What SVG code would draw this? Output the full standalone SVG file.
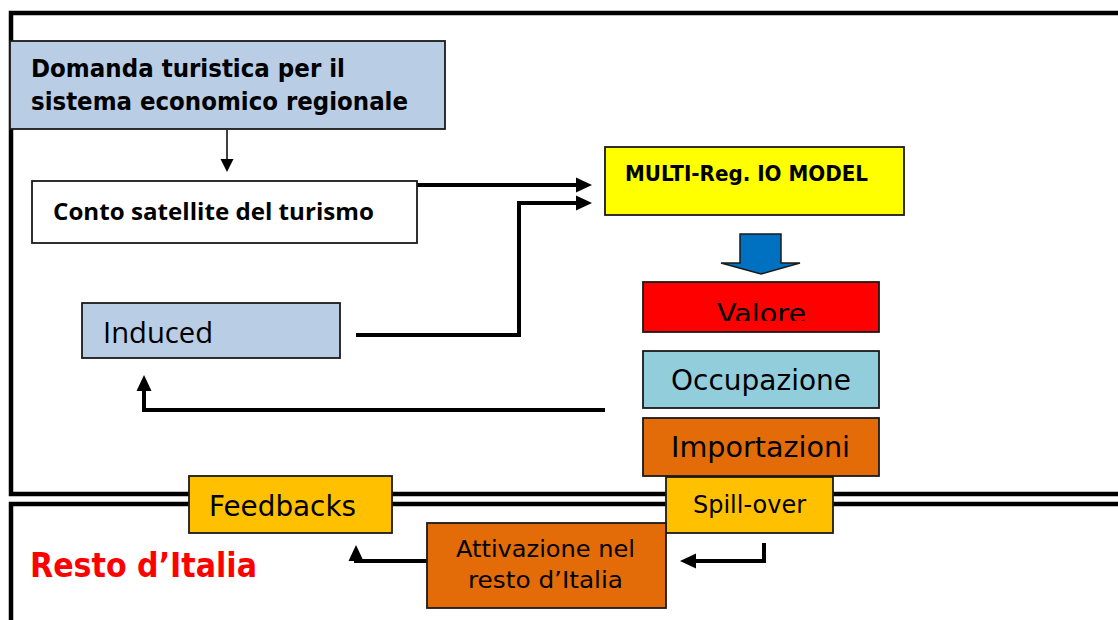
<svg xmlns="http://www.w3.org/2000/svg" width="1118" height="620" viewBox="0 0 1118 620">
  <style>
    .frame { fill: none; stroke: #000; stroke-width: 4.5; }
    .box { stroke: #1a1a1a; stroke-width: 1.8; }
    .conn { fill: none; stroke: #000; stroke-width: 4; }
    .thin { fill: none; stroke: #000; stroke-width: 1.5; }
    .tah { font-family: "DejaVu Sans", Verdana, sans-serif; fill: #000; }
    .cal { font-family: "Open Sans", "Noto Sans", sans-serif; fill: #000; }
    .b { font-weight: bold; }
  </style>
  <defs>
    <marker id="ah" markerUnits="userSpaceOnUse" markerWidth="18" markerHeight="16" refX="2" refY="8" orient="auto">
      <path d="M0,0.5 L16,8 L0,15.5 z" fill="#000"/>
    </marker>
    <marker id="ahs" markerUnits="userSpaceOnUse" markerWidth="14" markerHeight="14" refX="1" refY="6.5" orient="auto">
      <path d="M0,0 L13,6.5 L0,13 z" fill="#000"/>
    </marker>
    <clipPath id="clipValore">
      <rect x="643" y="282" width="236" height="39"/>
    </clipPath>
  </defs>

  <g id="frames">
    <path class="frame" d="M1118,13 H11 V494 H1118"/>
    <path class="frame" d="M1118,504 H11 V620"/>
  </g>

  <g id="connectors">
    <path class="thin" d="M227,130 V160" marker-end="url(#ahs)"/>
    <path class="conn" d="M417,185 H578" marker-end="url(#ah)"/>
    <path class="conn" d="M356,335 H519 V203 H578" marker-end="url(#ah)"/>
    <path class="conn" d="M605,410 H144 V389" marker-end="url(#ah)"/>
    <path class="conn" d="M764,543 V561 H694" marker-end="url(#ah)"/>
    <path class="conn" d="M442,561 H356 V559" marker-end="url(#ah)"/>
  </g>

  <g id="domanda">
    <rect class="box" x="10" y="41" width="435" height="88" fill="#b9cde5"/>
    <text class="tah b" x="31" y="77" font-size="25" textLength="314" lengthAdjust="spacingAndGlyphs">Domanda turistica per il</text>
    <text class="tah b" x="31" y="110" font-size="25" textLength="377" lengthAdjust="spacingAndGlyphs">sistema economico regionale</text>
  </g>

  <g id="conto">
    <rect class="box" x="32" y="181" width="385" height="62" fill="#ffffff"/>
    <text class="cal b" x="53" y="220" font-size="23" textLength="321" lengthAdjust="spacingAndGlyphs">Conto satellite del turismo</text>
  </g>

  <g id="multireg">
    <rect class="box" x="605" y="147" width="299" height="68" fill="#ffff00"/>
    <text class="tah b" x="625" y="181" font-size="22" textLength="243" lengthAdjust="spacingAndGlyphs">MULTI-Reg. IO MODEL</text>
  </g>

  <g id="blue-arrow">
    <path d="M740,234 H781 V263 H800 L761,274 L721,263 H740 Z" fill="#0070c0" stroke="#1a1a1a" stroke-width="1.5"/>
  </g>

  <g id="induced">
    <rect class="box" x="82" y="303" width="258" height="55" fill="#b9cde5"/>
    <text class="cal" x="103" y="343" font-size="29" textLength="110" lengthAdjust="spacingAndGlyphs">Induced</text>
  </g>

  <g id="valore">
    <rect class="box" x="643" y="282" width="236" height="50" fill="#ff0000"/>
    <text class="tah" x="717" y="323" font-size="27" textLength="89" lengthAdjust="spacingAndGlyphs" clip-path="url(#clipValore)">Valore</text>
  </g>

  <g id="occupazione">
    <rect class="box" x="643" y="351" width="236" height="57" fill="#92cddc"/>
    <text class="tah" x="671" y="390" font-size="29" textLength="180" lengthAdjust="spacingAndGlyphs">Occupazione</text>
  </g>

  <g id="importazioni">
    <rect class="box" x="643" y="418" width="236" height="58" fill="#e36c09"/>
    <text class="tah" x="671" y="457" font-size="29" textLength="179" lengthAdjust="spacingAndGlyphs">Importazioni</text>
  </g>

  <g id="spillover">
    <rect class="box" x="666" y="477" width="167" height="56" fill="#ffc000"/>
    <text class="tah" x="693" y="513" font-size="24" textLength="113" lengthAdjust="spacingAndGlyphs">Spill-over</text>
  </g>

  <g id="feedbacks">
    <rect class="box" x="189" y="476" width="203" height="57" fill="#ffc000"/>
    <text class="tah" x="209" y="516" font-size="29" textLength="147" lengthAdjust="spacingAndGlyphs">Feedbacks</text>
  </g>

  <g id="attivazione">
    <rect class="box" x="427" y="523" width="239" height="85" fill="#e36c09"/>
    <text class="tah" x="456" y="557" font-size="23" textLength="179" lengthAdjust="spacingAndGlyphs">Attivazione nel</text>
    <text class="tah" x="468" y="588" font-size="23" textLength="155" lengthAdjust="spacingAndGlyphs">resto d’Italia</text>
  </g>

  <g id="resto-label">
    <text class="tah b" x="30" y="577" font-size="33" textLength="227" lengthAdjust="spacingAndGlyphs" style="fill:#ff0000">Resto d’Italia</text>
  </g>
</svg>
